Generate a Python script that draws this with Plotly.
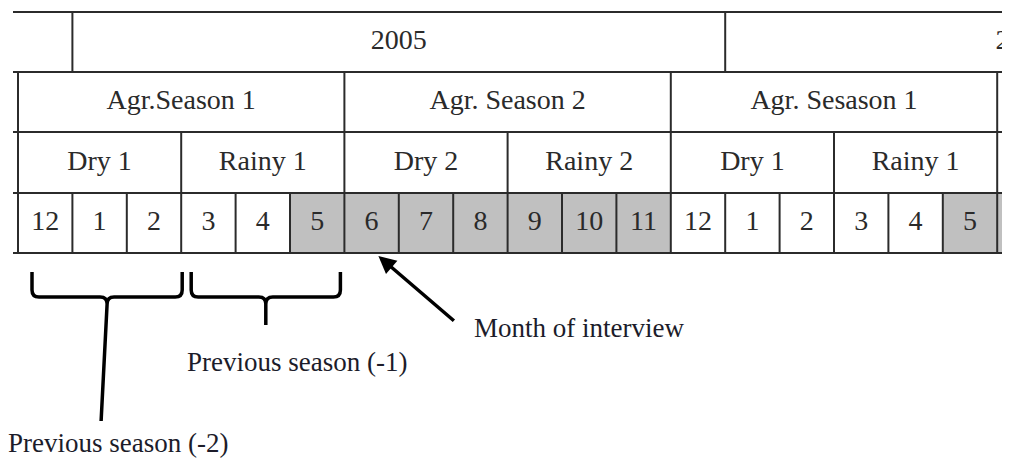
import plotly.graph_objects as go

# ---------------- data ----------------
months = [12, 1, 2, 3, 4, 5, 6, 7, 8, 9, 10, 11, 12, 1, 2, 3, 4, 5, 6]
shaded = [0, 0, 0, 0, 0, 1, 1, 1, 1, 1, 1, 1, 0, 0, 0, 0, 0, 1, 1]
sub_seasons = ["Dry 1", "Rainy 1", "Dry 2", "Rainy 2", "Dry 1", "Rainy 1"]
sub_len = 3
agr_seasons = ["Agr.Season 1", "Agr. Season 2", "Agr. Sesason 1"]
agr_len = 6
years = ["", "2005", "2006"]
year_start = [-1, 1, 13]
year_len = [2, 12, 12]

ann_interview = "Month of interview"
ann_prev1 = "Previous season (-1)"
ann_prev2 = "Previous season (-2)"

# ---------------- layout constants (pixels) ----------------
W, H = 1010, 463
PAGE_M = 8                 # default body margin of the html page
X0, CW = 18, 54.4          # left edge of first month cell, cell width
ROWS = [12, 72, 132, 193, 253]   # horizontal rule positions
LINE_X0 = 13
DOC_RIGHT = 1322           # right edge of the (cropped) original document
FONT = "Liberation Serif, Times New Roman, serif"
LINE_C = "#2b2b2b"
TXT_C = "#2a2a2a"
GRAY = "#c0c0c0"


def cx(i):
    return X0 + CW * i


fig = go.Figure()
shapes = []

# shaded month cells
for i, (m, s) in enumerate(zip(months, shaded)):
    if s:
        shapes.append(dict(type="rect", xref="x", yref="y", x0=cx(i), x1=cx(i + 1),
                           y0=ROWS[3], y1=ROWS[4], fillcolor=GRAY, line_width=0, layer="below"))

# horizontal rules
for y in ROWS:
    shapes.append(dict(type="line", xref="x", yref="y", x0=LINE_X0, x1=W + 20, y0=y, y1=y,
                       line=dict(color=LINE_C, width=2)))


def vline(x, r):
    shapes.append(dict(type="line", xref="x", yref="y", x0=x, x1=x, y0=ROWS[r], y1=ROWS[r + 1],
                       line=dict(color=LINE_C, width=2)))


# year row verticals
for st in year_start[1:]:
    vline(cx(st), 0)
# agr season verticals
for k in range(len(agr_seasons) + 1):
    vline(cx(k * agr_len), 1)
# sub-season verticals
for k in range(len(sub_seasons) + 1):
    vline(cx(k * sub_len), 2)
# month verticals
for i in range(len(months) + 1):
    vline(cx(i), 3)

# text labels in the table
tx, ty, tt = [], [], []
for lab, st, ln in zip(years, year_start, year_len):
    if lab:
        a, b = cx(st), min(cx(st + ln), DOC_RIGHT)
        tx.append((a + b) / 2); ty.append((ROWS[0] + ROWS[1]) / 2); tt.append(lab)
for k, lab in enumerate(agr_seasons):
    tx.append(cx(k * agr_len + agr_len / 2)); ty.append((ROWS[1] + ROWS[2]) / 2); tt.append(lab)
for k, lab in enumerate(sub_seasons):
    tx.append(cx(k * sub_len + sub_len / 2)); ty.append((ROWS[2] + ROWS[3]) / 2); tt.append(lab)
for i, m in enumerate(months[:18]):
    tx.append(cx(i + 0.5)); ty.append((ROWS[3] + ROWS[4]) / 2); tt.append(str(m))

fig.add_trace(go.Scatter(x=tx, y=ty, text=tt, mode="text", hoverinfo="skip",
                         textfont=dict(family=FONT, size=28, color=TXT_C), showlegend=False,
                         cliponaxis=True))


# curly brackets under Dry 1 and Rainy 1
def bracket(xa, xb, ytop, ybot, stem_to, stem_dx=0.0, r=7):
    xm = (xa + xb) / 2
    return (f"M {xa} {ytop} L {xa} {ybot - r} Q {xa} {ybot} {xa + r} {ybot} "
            f"L {xm - r} {ybot} Q {xm} {ybot} {xm} {ybot + r} L {xm + stem_dx} {stem_to} "
            f"M {xm} {ybot + r} Q {xm} {ybot} {xm + r} {ybot} L {xb - r} {ybot} "
            f"Q {xb} {ybot} {xb} {ybot - r} L {xb} {ytop}")


BR_TOP, BR_BOT = 272, 297
shapes.append(dict(type="path", xref="x", yref="y",
                   path=bracket(cx(0) + 14, cx(3) + 1, BR_TOP, BR_BOT, 421, stem_dx=-6),
                   line=dict(color="black", width=3.5)))
shapes.append(dict(type="path", xref="x", yref="y",
                   path=bracket(cx(3) + 10, cx(6) - 4, BR_TOP, BR_BOT, 325),
                   line=dict(color="black", width=3.5)))

annotations = [
    # arrow to month of interview
    dict(x=cx(6) + 34, y=ROWS[4] + 3, ax=cx(6) + 111, ay=322, xref="x", yref="y",
         axref="x", ayref="y", text="", showarrow=True, arrowhead=2, arrowsize=1,
         arrowwidth=3.5, arrowcolor="black"),
    dict(x=472, y=328, xref="x", yref="y", text=ann_interview, showarrow=False,
         xanchor="left", yanchor="middle", font=dict(family=FONT, size=27, color="#1c1c2a")),
    dict(x=cx(3) + 116, y=362, xref="x", yref="y", text=ann_prev1, showarrow=False,
         xanchor="center", yanchor="middle", font=dict(family=FONT, size=27, color="#1c1c2a")),
    dict(x=118, y=443, xref="x", yref="y", text=ann_prev2, showarrow=False,
         xanchor="center", yanchor="middle", font=dict(family=FONT, size=27, color="#1c1c2a")),
]

fig.update_layout(
    width=W - PAGE_M, height=H - PAGE_M, margin=dict(l=0, r=0, t=0, b=0),
    paper_bgcolor="white", plot_bgcolor="white",
    xaxis=dict(range=[PAGE_M, W], visible=False, fixedrange=True),
    yaxis=dict(range=[H, PAGE_M], visible=False, fixedrange=True),
    shapes=shapes, annotations=annotations, showlegend=False,
)

fig.write_html("out.html")
